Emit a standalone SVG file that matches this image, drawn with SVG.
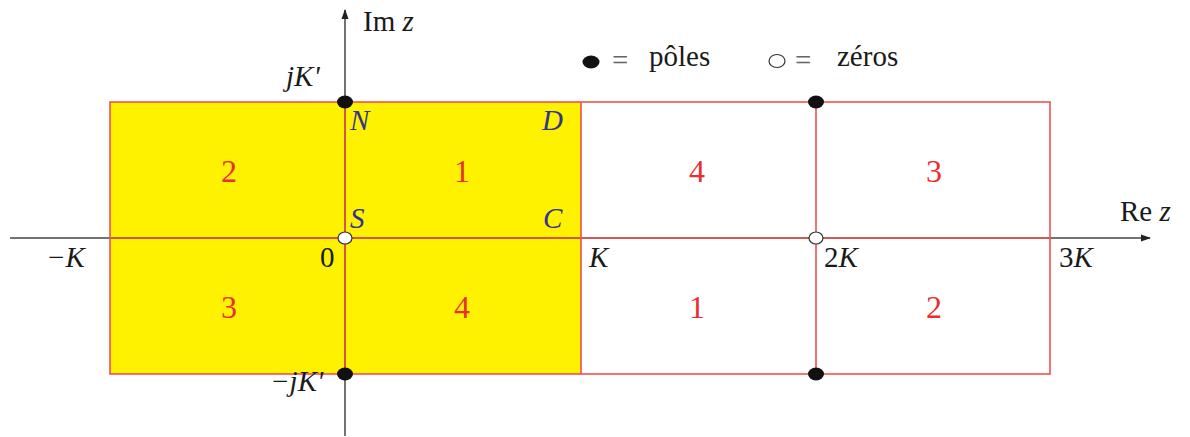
<svg xmlns="http://www.w3.org/2000/svg" width="1190" height="437" viewBox="0 0 1190 437">
<style>
text{font-family:"Liberation Serif","DejaVu Serif",serif;font-size:29px;fill:#1a1a1a}
.it{font-style:italic}
.bl{fill:#33338a;font-style:italic}
.rd{fill:#e83030;text-anchor:middle;font-size:32px}
.eq{fill:#666}
.grid{stroke:#f05050;stroke-width:1.6;fill:none}
.ax{stroke:#444;stroke-width:1.5}
.pole{fill:#111}
.zero{fill:#fff;stroke:#333;stroke-width:1.2}
</style>
<defs>
<marker id="ar" viewBox="0 0 10 10" refX="9" refY="5" markerWidth="12" markerHeight="10" markerUnits="userSpaceOnUse" orient="auto">
<path d="M0,1.5 L10,5 L0,8.5 z" fill="#222"/>
</marker>
</defs>
<rect x="110" y="102" width="471" height="272" fill="#fff200"/>
<g id="axes">
<line class="ax" x1="10" y1="238" x2="1150" y2="238" marker-end="url(#ar)"/>
<line class="ax" x1="345" y1="436" x2="345" y2="10" marker-end="url(#ar)"/>
</g>
<g id="connectors">
<rect class="grid" x="110" y="102" width="940" height="272"/>
<line class="grid" x1="345" y1="102" x2="345" y2="374"/>
<line class="grid" x1="581" y1="102" x2="581" y2="374"/>
<line class="grid" x1="816" y1="102" x2="816" y2="374"/>
<line class="grid" x1="110" y1="238" x2="1050" y2="238"/>
</g>
<g id="points">
<ellipse class="pole" cx="345" cy="102" rx="8" ry="6.5"/>
<ellipse class="pole" cx="816" cy="102" rx="8" ry="6.5"/>
<ellipse class="pole" cx="345" cy="374" rx="8" ry="6.5"/>
<ellipse class="pole" cx="816" cy="374" rx="8" ry="6.5"/>
<ellipse class="zero" cx="345" cy="238" rx="7" ry="6"/>
<ellipse class="zero" cx="816" cy="238" rx="7" ry="6"/>
</g>
<g id="legend">
<ellipse class="pole" cx="591" cy="62" rx="8.5" ry="6.5"/>
<text class="eq" x="612" y="70">=</text>
<text x="649" y="66">pôles</text>
<ellipse class="zero" cx="777" cy="61" rx="8" ry="6.5"/>
<text class="eq" x="795" y="70">=</text>
<text x="837" y="66">zéros</text>
</g>
<g id="labels">
<text x="363" y="31">Im <tspan class="it">z</tspan></text>
<text x="1120" y="221">Re <tspan class="it">z</tspan></text>
<text class="it" x="286" y="86">jK'</text>
<text class="it" x="270" y="391">−jK'</text>
<text x="320" y="267">0</text>
<text class="it" x="46" y="267">−K</text>
<text class="it" x="589" y="267">K</text>
<text x="824" y="267">2<tspan class="it">K</tspan></text>
<text x="1059" y="267">3<tspan class="it">K</tspan></text>
<text class="bl" x="350" y="130">N</text>
<text class="bl" x="542" y="130">D</text>
<text class="bl" x="350" y="228">S</text>
<text class="bl" x="543" y="228">C</text>
</g>
<g id="regions">
<text class="rd" x="229" y="182">2</text>
<text class="rd" x="462" y="182">1</text>
<text class="rd" x="697" y="182">4</text>
<text class="rd" x="934" y="182">3</text>
<text class="rd" x="229" y="318">3</text>
<text class="rd" x="462" y="318">4</text>
<text class="rd" x="697" y="318">1</text>
<text class="rd" x="934" y="318">2</text>
</g>
</svg>
